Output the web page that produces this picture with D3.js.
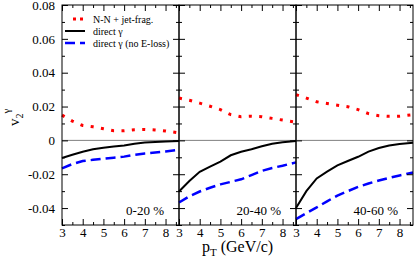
<!DOCTYPE html>
<html lang="en">
<head>
  <meta charset="UTF-8">
  <title>v2 gamma</title>
  <style>
    body { margin: 0; background: #fff; }
  </style>
</head>
<body>
  <svg width="415" height="262"></svg>
  <script src="https://d3js.org/d3.v7.min.js"></script>
  <script>
    // pT grid (GeV/c), shared by every curve
    var pt = [3, 3.5, 4, 4.5, 5, 5.5, 6, 6.5, 7, 7.5, 8, 8.65];

    var centrality = ["0-20 %", "20-40 %", "40-60 %"];

    // N-N + jet-frag. (red dotted)
    var jetFrag = [
      [0.0149, 0.0114, 0.0088, 0.0080, 0.0069, 0.0057, 0.0057, 0.0063, 0.0065, 0.0062, 0.0056, 0.0044],
      [0.0250, 0.0237, 0.0220, 0.0202, 0.0182, 0.0152, 0.0140, 0.0143, 0.0140, 0.0130, 0.0120, 0.0108],
      [0.0270, 0.0250, 0.0228, 0.0218, 0.0208, 0.0199, 0.0182, 0.0158, 0.0146, 0.0142, 0.0143, 0.0152]
    ];
    // direct gamma (black solid)
    var direct = [
      [-0.0104, -0.0085, -0.0067, -0.0053, -0.0043, -0.0036, -0.0030, -0.0020, -0.0013, -0.0010, -0.0007, -0.0004],
      [-0.0302, -0.0240, -0.0186, -0.0155, -0.0125, -0.0088, -0.0067, -0.0052, -0.0035, -0.0020, -0.0011, -0.0004],
      [-0.0400, -0.0300, -0.0225, -0.0185, -0.0148, -0.0122, -0.0097, -0.0066, -0.0045, -0.0030, -0.0021, -0.0014]
    ];
    // direct gamma, no E-loss (blue dashed)
    var noEloss = [
      [-0.0165, -0.0140, -0.0122, -0.0115, -0.0108, -0.0102, -0.0096, -0.0085, -0.0077, -0.0071, -0.0065, -0.0055],
      [-0.0367, -0.0330, -0.0302, -0.0280, -0.0260, -0.0245, -0.0230, -0.0205, -0.0180, -0.0163, -0.0150, -0.0130],
      [-0.0465, -0.0430, -0.0396, -0.0360, -0.0326, -0.0300, -0.0275, -0.0255, -0.0237, -0.0222, -0.0207, -0.0190]
    ];

    var xTicks = [3, 4, 5, 6, 7, 8];
    var xMinor = [3.5, 4.5, 5.5, 6.5, 7.5, 8.5];
    var yTicks = [-0.04, -0.02, 0, 0.02, 0.04, 0.06, 0.08];
    var yMinor = [-0.05, -0.03, -0.01, 0.01, 0.03, 0.05, 0.07];

    var legendItems = ["N-N + jet-frag.", "direct \u03b3", "direct \u03b3 (no E-loss)"];

    var serif = "Liberation Serif";

    var svg = d3.select("svg").style("font-family", serif),
        margin = {top: 5, right: 2, bottom: 37, left: 62},
        width = +svg.attr("width") - margin.left - margin.right,
        height = +svg.attr("height") - margin.top - margin.bottom,
        pw = width / 3;

    var x = d3.scaleLinear().domain([3, 8.65]).range([0, pw]),
        y = d3.scaleLinear().domain([-0.05, 0.08]).range([height, 0]);

    var styles = [
      {color: "#ff0000", w: 3, dash: "3 7.4"},
      {color: "#000000", w: 2, dash: null},
      {color: "#0000ff", w: 2.5, dash: "10 5"}
    ];

    var line = d3.line()
        .x(function(d) { return x(d[0]); })
        .y(function(d) { return y(d[1]); });

    var g = svg.append("g").attr("transform", "translate(" + margin.left + "," + margin.top + ")");

    function fmt(d) { return d === 0 ? "0" : d.toFixed(2); }

    centrality.forEach(function(lab, i) {
      var p = g.append("g").attr("transform", "translate(" + (i * pw) + ",0)");

      // zero line
      p.append("line")
        .attr("x1", 0).attr("x2", pw)
        .attr("y1", y(0)).attr("y2", y(0))
        .attr("stroke", "#808080").attr("stroke-width", 1);

      [jetFrag[i], direct[i], noEloss[i]].forEach(function(vals, k) {
        var s = styles[k];
        p.append("path")
          .datum(pt.map(function(v, j) { return [v, vals[j]]; }))
          .attr("d", line)
          .attr("fill", "none")
          .attr("stroke", s.color)
          .attr("stroke-width", s.w)
          .attr("stroke-dasharray", s.dash);
      });

      // inward ticks on all four sides
      var axes = [
        {a: d3.axisBottom(x), t: "translate(0," + height + ")", v: xTicks, m: xMinor},
        {a: d3.axisTop(x), t: null, v: xTicks, m: xMinor},
        {a: d3.axisLeft(y), t: null, v: yTicks, m: yMinor},
        {a: d3.axisRight(y), t: "translate(" + pw + ",0)", v: yTicks, m: yMinor}
      ];
      axes.forEach(function(ax, n) {
        var major = p.append("g").attr("transform", ax.t)
          .call(ax.a.tickValues(ax.v).tickSizeInner(-6).tickSizeOuter(0).tickPadding(n === 0 ? 3 : 7)
            .tickFormat(n === 0 ? d3.format("d") : (n === 2 && i === 0 ? fmt : "")));
        var minor = p.append("g").attr("transform", ax.t)
          .call(ax.a.tickValues(ax.m).tickSizeInner(-3).tickFormat(""));
        [major, minor].forEach(function(sel) {
          sel.attr("font-family", null).attr("font-size", null);
          sel.select(".domain").remove();
          sel.selectAll("line").attr("stroke", "#000");
        });
        major.selectAll("text").style("font-size", "13px").style("font-family", serif);
        if (n === 1 || n === 3 || (n === 2 && i > 0)) major.selectAll("text").remove();
      });

      p.append("rect")
        .attr("width", pw).attr("height", height)
        .attr("fill", "none").attr("stroke", "#000").attr("stroke-width", 1);

      p.append("text")
        .attr("x", pw - 15).attr("y", 210)
        .attr("text-anchor", "end")
        .style("font-size", "13px")
        .text(lab);
    });

    // legend
    var leg = g.append("g").attr("transform", "translate(3,14)");
    legendItems.forEach(function(t, k) {
      var s = styles[k], yy = k * 12;
      leg.append("line")
        .attr("x1", k === 0 ? 8 : 0).attr("x2", 20)
        .attr("y1", yy).attr("y2", yy)
        .attr("stroke", s.color)
        .attr("stroke-width", s.w)
        .attr("stroke-dasharray", k === 0 ? "3 4" : s.dash);
      leg.append("text")
        .attr("x", 28).attr("y", yy)
        .attr("dy", "0.35em")
        .style("font-size", "10px")
        .text(t);
    });

    // axis titles
    var xt = svg.append("text")
      .attr("x", margin.left + width / 2)
      .attr("y", 252)
      .attr("text-anchor", "middle")
      .style("font-size", "16px");
    xt.append("tspan").text("p");
    xt.append("tspan").attr("dy", 4).style("font-size", "11px").text("T");
    xt.append("tspan").attr("dy", -4).text(" (GeV/c)");

    var yt = svg.append("text")
      .attr("transform", "translate(19,126) rotate(-90)");
    yt.append("tspan").style("font-size", "15px").text("v");
    yt.append("tspan").attr("dy", 4).style("font-size", "10px").text("2");
    yt.append("tspan").attr("dy", -13).style("font-size", "11px").text("\u03b3");
  </script>
</body>
</html>
